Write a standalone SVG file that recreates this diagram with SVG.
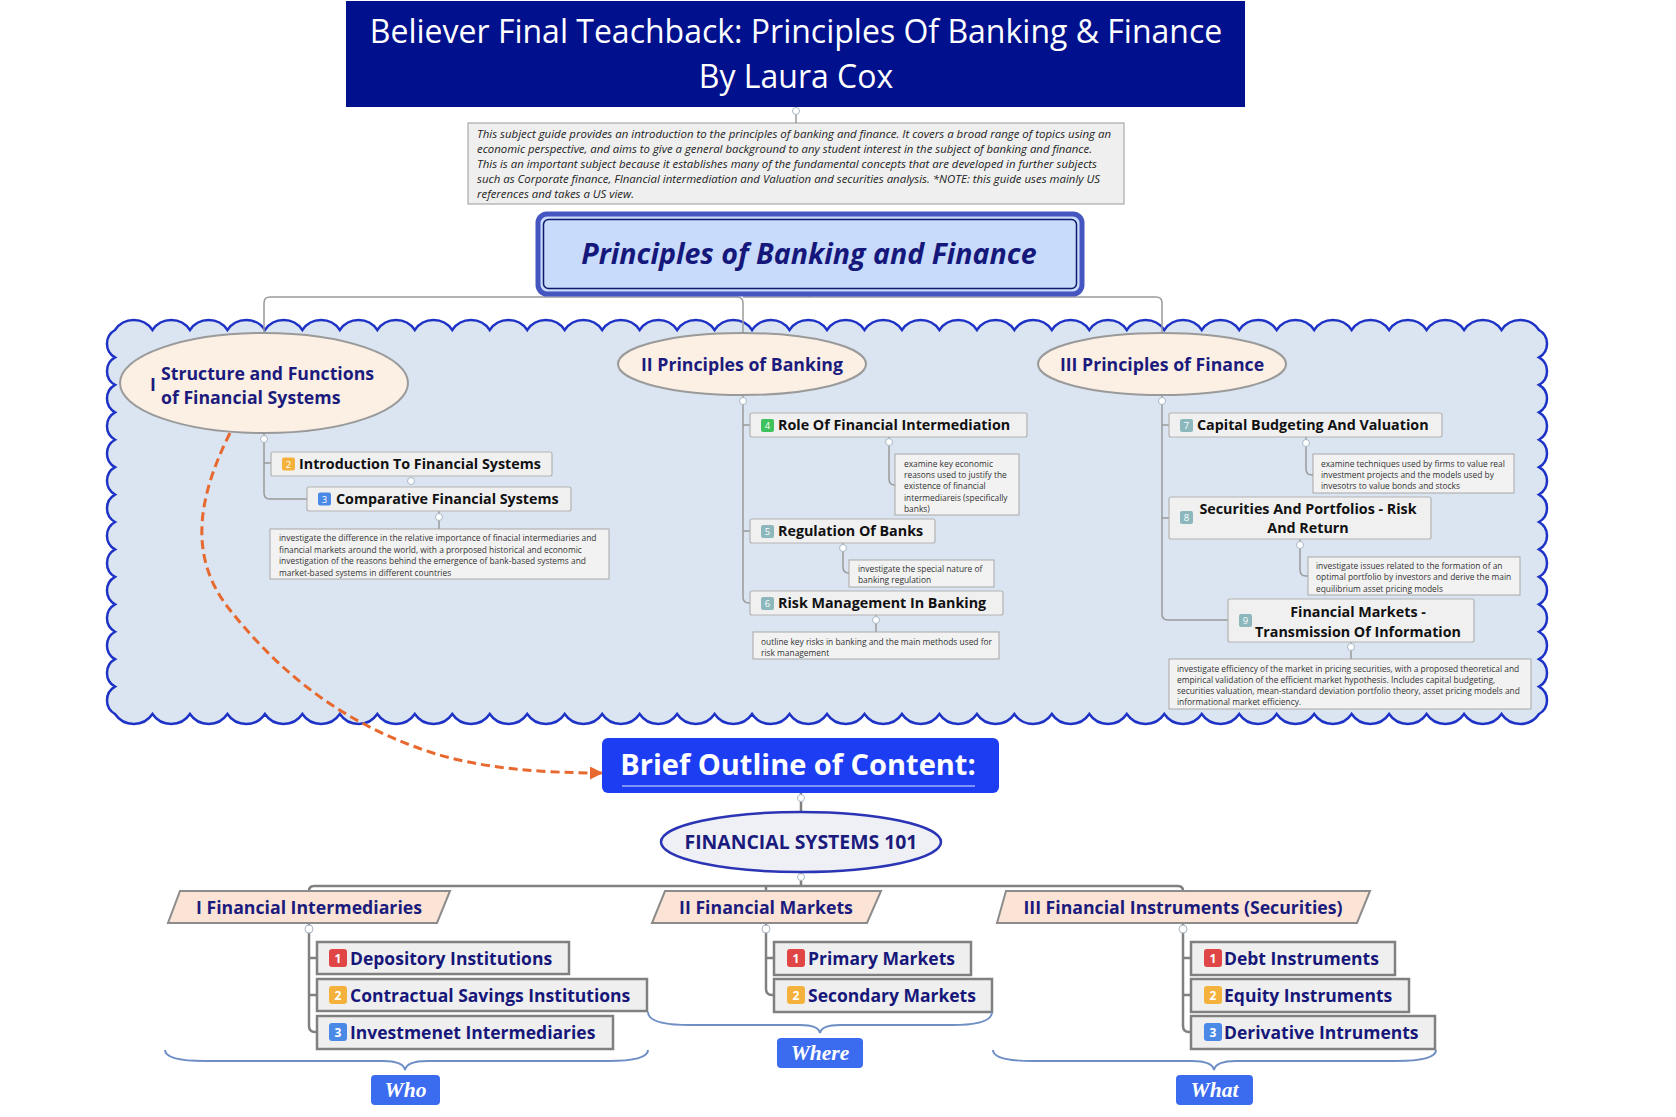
<svg xmlns="http://www.w3.org/2000/svg" width="1676" height="1117" viewBox="0 0 1676 1117">
<defs>
<style>
.sans{font-family:"Open Sans","DejaVu Sans",sans-serif}
.box{fill:#f0f0f0;stroke:#b3b3b3;stroke-width:1.2}
.note{fill:#f2f2f2;stroke:#a8a8a8;stroke-width:1}
.t15{font-family:"Open Sans",sans-serif;font-weight:bold;font-size:14.3px;fill:#111}
.nt{font-family:"Open Sans",sans-serif;font-size:8.4px;fill:#333}
.oval{fill:#fcefe4;stroke:#9a9a9a;stroke-width:2}
.ot{font-family:"Open Sans",sans-serif;font-weight:bold;font-size:17.7px;fill:#1b1b7d}
.conn{fill:none;stroke:#9a9a9a;stroke-width:1.5}
.conn2{fill:none;stroke:#808080;stroke-width:2.5}
.knob{fill:#fff;stroke:#a9b7c6;stroke-width:1}
.item{fill:#efefef;stroke:#808080;stroke-width:2.5}
.it{font-family:"Open Sans",sans-serif;font-weight:bold;font-size:17.5px;fill:#17177a}
.para{fill:#fbe4d5;stroke:#8c8c8c;stroke-width:2}
.bt{font-family:"Open Sans",sans-serif;font-size:9.5px;fill:#fff;text-anchor:middle}
.bt2{font-family:"Open Sans",sans-serif;font-size:12px;font-weight:bold;fill:#fff;text-anchor:middle}
.brace{fill:none;stroke:#6f8fc4;stroke-width:2}
.lbl{fill:#3b6cf0}
.lt{font-family:"Liberation Serif",serif;font-style:italic;font-weight:bold;font-size:21.5px;fill:#fff;text-anchor:middle}
.orange{fill:#f4b23c}.blue{fill:#4a8ae6}.green{fill:#3ec25b}.teal{fill:#8cb7bd}.red{fill:#e04646}
.dt{font-family:"Open Sans",sans-serif;font-style:italic;font-size:11px;fill:#222}
</style>
<marker id="arr" viewBox="0 0 10 10" refX="10" refY="5" markerWidth="13" markerHeight="13" markerUnits="userSpaceOnUse" orient="auto">
<polygon points="0,0 10,5 0,10" fill="#e8692f"/>
</marker>
</defs>

<!-- cloud boundary -->
<g id="cloud">
<path fill="#dae5f1" stroke="#1e33c6" stroke-width="2.5" d="M115,330
a22.6 22.6 0 0 1 37.474 0 a22.6 22.6 0 0 1 37.474 0 a22.6 22.6 0 0 1 37.474 0 a22.6 22.6 0 0 1 37.474 0 a22.6 22.6 0 0 1 37.474 0 a22.6 22.6 0 0 1 37.474 0 a22.6 22.6 0 0 1 37.474 0 a22.6 22.6 0 0 1 37.474 0 a22.6 22.6 0 0 1 37.474 0 a22.6 22.6 0 0 1 37.474 0
a22.6 22.6 0 0 1 37.474 0 a22.6 22.6 0 0 1 37.474 0 a22.6 22.6 0 0 1 37.474 0 a22.6 22.6 0 0 1 37.474 0 a22.6 22.6 0 0 1 37.474 0 a22.6 22.6 0 0 1 37.474 0 a22.6 22.6 0 0 1 37.474 0 a22.6 22.6 0 0 1 37.474 0 a22.6 22.6 0 0 1 37.474 0 a22.6 22.6 0 0 1 37.474 0
a22.6 22.6 0 0 1 37.474 0 a22.6 22.6 0 0 1 37.474 0 a22.6 22.6 0 0 1 37.474 0 a22.6 22.6 0 0 1 37.474 0 a22.6 22.6 0 0 1 37.474 0 a22.6 22.6 0 0 1 37.474 0 a22.6 22.6 0 0 1 37.474 0 a22.6 22.6 0 0 1 37.474 0 a22.6 22.6 0 0 1 37.474 0 a22.6 22.6 0 0 1 37.474 0
a22.6 22.6 0 0 1 37.474 0 a22.6 22.6 0 0 1 37.474 0 a22.6 22.6 0 0 1 37.474 0 a22.6 22.6 0 0 1 37.474 0 a22.6 22.6 0 0 1 37.474 0 a22.6 22.6 0 0 1 37.474 0 a22.6 22.6 0 0 1 37.474 0 a22.6 22.6 0 0 1 37.474 0
a15.75 15.75 0 0 1 0 27.43 a15.75 15.75 0 0 1 0 27.43 a15.75 15.75 0 0 1 0 27.43 a15.75 15.75 0 0 1 0 27.43 a15.75 15.75 0 0 1 0 27.43 a15.75 15.75 0 0 1 0 27.43 a15.75 15.75 0 0 1 0 27.43
a15.75 15.75 0 0 1 0 27.43 a15.75 15.75 0 0 1 0 27.43 a15.75 15.75 0 0 1 0 27.43 a15.75 15.75 0 0 1 0 27.43 a15.75 15.75 0 0 1 0 27.43 a15.75 15.75 0 0 1 0 27.43 a15.75 15.75 0 0 1 0 27.43
a22.6 22.6 0 0 1 -37.474 0 a22.6 22.6 0 0 1 -37.474 0 a22.6 22.6 0 0 1 -37.474 0 a22.6 22.6 0 0 1 -37.474 0 a22.6 22.6 0 0 1 -37.474 0 a22.6 22.6 0 0 1 -37.474 0 a22.6 22.6 0 0 1 -37.474 0 a22.6 22.6 0 0 1 -37.474 0 a22.6 22.6 0 0 1 -37.474 0 a22.6 22.6 0 0 1 -37.474 0
a22.6 22.6 0 0 1 -37.474 0 a22.6 22.6 0 0 1 -37.474 0 a22.6 22.6 0 0 1 -37.474 0 a22.6 22.6 0 0 1 -37.474 0 a22.6 22.6 0 0 1 -37.474 0 a22.6 22.6 0 0 1 -37.474 0 a22.6 22.6 0 0 1 -37.474 0 a22.6 22.6 0 0 1 -37.474 0 a22.6 22.6 0 0 1 -37.474 0 a22.6 22.6 0 0 1 -37.474 0
a22.6 22.6 0 0 1 -37.474 0 a22.6 22.6 0 0 1 -37.474 0 a22.6 22.6 0 0 1 -37.474 0 a22.6 22.6 0 0 1 -37.474 0 a22.6 22.6 0 0 1 -37.474 0 a22.6 22.6 0 0 1 -37.474 0 a22.6 22.6 0 0 1 -37.474 0 a22.6 22.6 0 0 1 -37.474 0 a22.6 22.6 0 0 1 -37.474 0 a22.6 22.6 0 0 1 -37.474 0
a22.6 22.6 0 0 1 -37.474 0 a22.6 22.6 0 0 1 -37.474 0 a22.6 22.6 0 0 1 -37.474 0 a22.6 22.6 0 0 1 -37.474 0 a22.6 22.6 0 0 1 -37.474 0 a22.6 22.6 0 0 1 -37.474 0 a22.6 22.6 0 0 1 -37.474 0 a22.6 22.6 0 0 1 -37.474 0
a15.75 15.75 0 0 1 0 -27.43 a15.75 15.75 0 0 1 0 -27.43 a15.75 15.75 0 0 1 0 -27.43 a15.75 15.75 0 0 1 0 -27.43 a15.75 15.75 0 0 1 0 -27.43 a15.75 15.75 0 0 1 0 -27.43 a15.75 15.75 0 0 1 0 -27.43
a15.75 15.75 0 0 1 0 -27.43 a15.75 15.75 0 0 1 0 -27.43 a15.75 15.75 0 0 1 0 -27.43 a15.75 15.75 0 0 1 0 -27.43 a15.75 15.75 0 0 1 0 -27.43 a15.75 15.75 0 0 1 0 -27.43 a15.75 15.75 0 0 1 0 -27.43 Z"/>
</g>

<!-- connectors -->
<g id="connectors">
<path class="conn" d="M796,107 V123"/>
<path class="conn" d="M809,294 V297 M264,333 V303 Q264,297 270,297 H737 Q743,297 743,303 V333 M743,297 H1156 Q1162,297 1162,303 V333"/>
<path class="conn" d="M264,433 V493 Q264,499 270,499 H307 M264,463 H271"/>
<path class="conn" d="M439,511 V529"/>
<path class="conn" d="M743,395 V597 Q743,603 749,603 H750 M743,425 H750 M743,531 H750"/>
<path class="conn" d="M889,437 V479 Q889,485 895,485"/>
<path class="conn" d="M843,543 V567 Q843,573 849,573"/>
<path class="conn" d="M876,615 V632"/>
<path class="conn" d="M1162,395 V614 Q1162,620 1168,620 H1228 M1162,425 H1169 M1162,518 H1169"/>
<path class="conn" d="M1306,437 V469 Q1306,475 1312,475 H1313"/>
<path class="conn" d="M1300,539 V570 Q1300,576 1306,576 H1308"/>
<path class="conn" d="M1351,642 V659"/>
<path class="conn2" d="M801,793 V812 M801,872 V886 M309,891 Q309,886 314,886 H1178 Q1183,886 1183,891 M766,886 V891"/>
<path class="conn2" d="M309,923 V1026 Q309,1032 315,1032 H317 M309,958 H317 M309,995 H317"/>
<path class="conn2" d="M766,923 V989 Q766,995 772,995 H774 M766,958 H774"/>
<path class="conn2" d="M1183,923 V1026 Q1183,1032 1189,1032 H1191 M1183,958 H1191 M1183,995 H1191"/>
<path fill="none" stroke="#e8692f" stroke-width="3" stroke-dasharray="9 5" marker-end="url(#arr)" d="M230,433 C195,503 190,560 230,610 C270,660 330,720 433,753 C480,768 540,773 603,773"/>
<circle class="knob" cx="796" cy="111" r="3.5"/>
<circle class="knob" cx="264" cy="439" r="3.5"/>
<circle class="knob" cx="411" cy="481" r="3.5"/>
<circle class="knob" cx="439" cy="517" r="3.5"/>
<circle class="knob" cx="743" cy="401" r="3.5"/>
<circle class="knob" cx="889" cy="442" r="3.5"/>
<circle class="knob" cx="843" cy="548" r="3.5"/>
<circle class="knob" cx="876" cy="620" r="3.5"/>
<circle class="knob" cx="1162" cy="401" r="3.5"/>
<circle class="knob" cx="1306" cy="443" r="3.5"/>
<circle class="knob" cx="1300" cy="545" r="3.5"/>
<circle class="knob" cx="1351" cy="647" r="3.5"/>
<circle class="knob" cx="801" cy="798" r="3.5"/>
<circle class="knob" cx="801" cy="877" r="3.5"/>
<circle class="knob" cx="309" cy="929" r="4" stroke="#888"/>
<circle class="knob" cx="766" cy="929" r="4" stroke="#888"/>
<circle class="knob" cx="1183" cy="929" r="4" stroke="#888"/>
</g>

<!-- title -->
<g id="title">
<rect x="346" y="1" width="899" height="106" fill="#01108c"/>
<text class="sans" x="796" y="43" font-size="32" fill="#fff" text-anchor="middle">Believer Final Teachback: Principles Of Banking &amp; Finance</text>
<text class="sans" x="796" y="88" font-size="32" fill="#fff" text-anchor="middle">By Laura Cox</text>
</g>

<g id="description">
<rect x="468" y="123" width="656" height="81" fill="#efefef" stroke="#9a9a9a" stroke-width="1"/>
<text class="dt" x="477" y="138" textLength="634" lengthAdjust="spacingAndGlyphs">This subject guide provides an introduction to the principles of banking and finance. It covers a broad range of topics using an</text>
<text class="dt" x="477" y="153" textLength="615" lengthAdjust="spacingAndGlyphs">economic perspective, and aims to give a general background to any student interest in the subject of banking and finance.</text>
<text class="dt" x="477" y="168" textLength="620" lengthAdjust="spacingAndGlyphs">This is an important subject because it establishes many of the fundamental concepts that are developed in further subjects</text>
<text class="dt" x="477" y="183" textLength="623" lengthAdjust="spacingAndGlyphs">such as Corporate finance, FInancial intermediation and Valuation and securities analysis. *NOTE: this guide uses mainly US</text>
<text class="dt" x="477" y="198" textLength="157" lengthAdjust="spacingAndGlyphs">references and takes a US view.</text>
</g>

<g id="main-topic">
<rect x="538" y="214" width="544" height="80" rx="9" fill="#c8dbfa" stroke="#4656c0" stroke-width="5"/>
<rect x="543.5" y="219.5" width="533" height="69" rx="5" fill="none" stroke="#0d1a6e" stroke-width="1.5"/>
<text class="sans" x="809" y="264" font-size="28.6" font-weight="bold" font-style="italic" fill="#15187a" text-anchor="middle">Principles of Banking and Finance</text>
</g>

<!-- branch I -->
<g id="structure-functions">
<ellipse class="oval" cx="264" cy="383" rx="144" ry="50"/>
<text class="ot" x="150" y="391">I</text>
<text class="ot" x="161" y="380">Structure and Functions</text>
<text class="ot" x="161" y="404">of Financial Systems</text>
</g>
<g id="intro-financial-systems">
<rect class="box" x="271" y="452" width="281" height="24" rx="2"/>
<rect class="orange" x="282" y="457.5" width="13" height="13" rx="2"/>
<text class="bt" x="288.5" y="467.5">2</text>
<text class="t15" x="299" y="469">Introduction To Financial Systems</text>
</g>
<g id="comparative-financial-systems">
<rect class="box" x="307" y="487" width="264" height="24" rx="2"/>
<rect class="blue" x="318" y="492.5" width="13" height="13" rx="2"/>
<text class="bt" x="324.5" y="502.5">3</text>
<text class="t15" x="336" y="504">Comparative Financial Systems</text>
</g>
<g id="note-comparative">
<rect class="note" x="270" y="529" width="339" height="50"/>
<text class="nt" x="279" y="541">investigate the difference in the relative importance of finacial intermediaries and</text>
<text class="nt" x="279" y="552.5">financial markets around the world, with a prorposed historical and economic</text>
<text class="nt" x="279" y="564">investigation of the reasons behind the emergence of bank-based systems and</text>
<text class="nt" x="279" y="575.5">market-based systems in different countries</text>
</g>

<!-- branch II -->
<g id="principles-banking">
<ellipse class="oval" cx="742" cy="364" rx="124" ry="31"/>
<text class="ot" x="742" y="371" text-anchor="middle">II Principles of Banking</text>
</g>
<g id="role-intermediation">
<rect class="box" x="750" y="413" width="277" height="24" rx="2"/>
<rect class="green" x="761" y="419" width="13" height="13" rx="2"/>
<text class="bt" x="767.5" y="429">4</text>
<text class="t15" x="778" y="430">Role Of Financial Intermediation</text>
</g>
<g id="note-role">
<rect class="note" x="895" y="454" width="124" height="61"/>
<text class="nt" x="904" y="467">examine key economic</text>
<text class="nt" x="904" y="478">reasons used to justify the</text>
<text class="nt" x="904" y="489">existence of financial</text>
<text class="nt" x="904" y="501">intermediareis (specifically</text>
<text class="nt" x="904" y="512">banks)</text>
</g>
<g id="regulation-banks">
<rect class="box" x="750" y="519" width="185" height="24" rx="2"/>
<rect class="teal" x="761" y="525" width="13" height="13" rx="2"/>
<text class="bt" x="767.5" y="535">5</text>
<text class="t15" x="778" y="536">Regulation Of Banks</text>
</g>
<g id="note-regulation">
<rect class="note" x="849" y="560" width="145" height="27"/>
<text class="nt" x="858" y="572">investigate the special nature of</text>
<text class="nt" x="858" y="583">banking regulation</text>
</g>
<g id="risk-management">
<rect class="box" x="750" y="591" width="253" height="24" rx="2"/>
<rect class="teal" x="761" y="597" width="13" height="13" rx="2"/>
<text class="bt" x="767.5" y="607">6</text>
<text class="t15" x="778" y="608">Risk Management In Banking</text>
</g>
<g id="note-risk">
<rect class="note" x="753" y="632" width="246" height="27"/>
<text class="nt" x="761" y="645">outline key risks in banking and the main methods used for</text>
<text class="nt" x="761" y="656">risk management</text>
</g>

<!-- branch III -->
<g id="principles-finance">
<ellipse class="oval" cx="1162" cy="364" rx="124" ry="31"/>
<text class="ot" x="1162" y="371" text-anchor="middle">III Principles of Finance</text>
</g>
<g id="capital-budgeting">
<rect class="box" x="1169" y="413" width="273" height="24" rx="2"/>
<rect class="teal" x="1180" y="419" width="13" height="13" rx="2"/>
<text class="bt" x="1186.5" y="429">7</text>
<text class="t15" x="1197" y="430">Capital Budgeting And Valuation</text>
</g>
<g id="note-capital">
<rect class="note" x="1313" y="454" width="201" height="39"/>
<text class="nt" x="1321" y="467">examine techniques used by firms to value real</text>
<text class="nt" x="1321" y="478">investment projects and the models used by</text>
<text class="nt" x="1321" y="489">invesotrs to value bonds and stocks</text>
</g>
<g id="securities-portfolios">
<rect class="box" x="1169" y="497" width="262" height="42" rx="2"/>
<rect class="teal" x="1180" y="511" width="13" height="13" rx="2"/>
<text class="bt" x="1186.5" y="521">8</text>
<text class="t15" x="1308" y="514" text-anchor="middle">Securities And Portfolios - Risk</text>
<text class="t15" x="1308" y="533" text-anchor="middle">And Return</text>
</g>
<g id="note-securities">
<rect class="note" x="1308" y="557" width="212" height="38"/>
<text class="nt" x="1316" y="569">investigate issues related to the formation of an</text>
<text class="nt" x="1316" y="580">optimal portfolio by investors and derive the main</text>
<text class="nt" x="1316" y="592">equilibrium asset pricing models</text>
</g>
<g id="financial-markets-info">
<rect class="box" x="1228" y="599" width="246" height="43" rx="2"/>
<rect class="teal" x="1239" y="614" width="13" height="13" rx="2"/>
<text class="bt" x="1245.5" y="624">9</text>
<text class="t15" x="1358" y="617" text-anchor="middle">Financial Markets -</text>
<text class="t15" x="1358" y="637" text-anchor="middle">Transmission Of Information</text>
</g>
<g id="note-financial-markets">
<rect class="note" x="1169" y="659" width="362" height="50"/>
<text class="nt" x="1177" y="672">investigate  efficiency of the market in pricing securities, with a proposed theoretical and</text>
<text class="nt" x="1177" y="683">empirical validation of the efficient market hypothesis. Includes capital budgeting,</text>
<text class="nt" x="1177" y="694">securities valuation, mean-standard deviation portfolio theory, asset pricing models and</text>
<text class="nt" x="1177" y="705">informational market efficiency.</text>
</g>

<!-- lower map -->
<g id="brief-outline">
<rect x="602" y="738" width="397" height="55" rx="6" fill="#1d3df2"/>
<text class="sans" x="798" y="775" font-size="29" font-weight="bold" fill="#fff" text-anchor="middle">Brief Outline of Content:</text>
<line x1="622" y1="786" x2="975" y2="786" stroke="#9fb2ff" stroke-width="1.5"/>
</g>
<g id="financial-systems-101">
<ellipse cx="801" cy="842" rx="140" ry="30" fill="#eef0f6" stroke="#2b34b4" stroke-width="2.5"/>
<text class="ot" x="801" y="849" style="font-size:19.4px" text-anchor="middle">FINANCIAL SYSTEMS 101</text>
</g>

<g id="financial-intermediaries">
<polygon class="para" points="180,891 450,891 437,923 168,923"/>
<text class="ot" x="309" y="914" text-anchor="middle">I Financial Intermediaries</text>
</g>
<g id="depository">
<rect class="item" x="317" y="942" width="252" height="32"/>
<rect class="red" x="329" y="949" width="18" height="18" rx="3"/>
<text class="bt2" x="338" y="962.5">1</text>
<text class="it" x="350" y="965">Depository Institutions</text>
</g>
<g id="contractual">
<rect class="item" x="317" y="979" width="330" height="32"/>
<rect class="orange" x="329" y="986" width="18" height="18" rx="3"/>
<text class="bt2" x="338" y="999.5">2</text>
<text class="it" x="350" y="1002">Contractual Savings Institutions</text>
</g>
<g id="investment">
<rect class="item" x="317" y="1016" width="296" height="33"/>
<rect class="blue" x="329" y="1023" width="18" height="18" rx="3"/>
<text class="bt2" x="338" y="1036.5">3</text>
<text class="it" x="350" y="1039">Investmenet Intermediaries</text>
</g>

<g id="financial-markets">
<polygon class="para" points="665,891 881,891 867,923 652,923"/>
<text class="ot" x="766" y="914" text-anchor="middle">II Financial Markets</text>
</g>
<g id="primary">
<rect class="item" x="774" y="942" width="197" height="33"/>
<rect class="red" x="787" y="949" width="18" height="18" rx="3"/>
<text class="bt2" x="796" y="962.5">1</text>
<text class="it" x="808" y="965">Primary Markets</text>
</g>
<g id="secondary">
<rect class="item" x="774" y="979" width="218" height="33"/>
<rect class="orange" x="787" y="986" width="18" height="18" rx="3"/>
<text class="bt2" x="796" y="999.5">2</text>
<text class="it" x="808" y="1002">Secondary Markets</text>
</g>

<g id="financial-instruments">
<polygon class="para" points="1006,891 1370,891 1357,923 997,923"/>
<text class="ot" x="1183" y="914" text-anchor="middle">III Financial Instruments (Securities)</text>
</g>
<g id="debt">
<rect class="item" x="1191" y="942" width="204" height="33"/>
<rect class="red" x="1204" y="949" width="18" height="18" rx="3"/>
<text class="bt2" x="1213" y="962.5">1</text>
<text class="it" x="1224" y="965">Debt Instruments</text>
</g>
<g id="equity">
<rect class="item" x="1191" y="979" width="218" height="33"/>
<rect class="orange" x="1204" y="986" width="18" height="18" rx="3"/>
<text class="bt2" x="1213" y="999.5">2</text>
<text class="it" x="1224" y="1002">Equity Instruments</text>
</g>
<g id="derivative">
<rect class="item" x="1191" y="1016" width="244" height="33"/>
<rect class="blue" x="1204" y="1023" width="18" height="18" rx="3"/>
<text class="bt2" x="1213" y="1036.5">3</text>
<text class="it" x="1224" y="1039">Derivative Intruments</text>
</g>

<!-- braces and labels -->
<g id="who">
<path class="brace" d="M165,1050 C165,1058 180,1061 205,1061 L383,1061 C398,1061 404,1065 405,1070 C406,1065 412,1061 427,1061 L608,1061 C633,1061 648,1058 648,1050"/>
<rect class="lbl" x="371" y="1075" width="69" height="30" rx="4"/>
<text class="lt" x="405.5" y="1097">Who</text>
</g>
<g id="where">
<path class="brace" d="M648,1012 C648,1021 662,1025 690,1025 L800,1025 C814,1025 819,1028 820,1033 C821,1028 826,1025 840,1025 L952,1025 C978,1025 992,1021 992,1012"/>
<rect class="lbl" x="777" y="1038" width="86" height="30" rx="4"/>
<text class="lt" x="820" y="1060">Where</text>
</g>
<g id="what">
<path class="brace" d="M993,1050 C993,1058 1008,1061 1033,1061 L1192,1061 C1207,1061 1213,1065 1214,1070 C1215,1065 1221,1061 1236,1061 L1396,1061 C1421,1061 1436,1058 1436,1050"/>
<rect class="lbl" x="1176" y="1075" width="77" height="30" rx="4"/>
<text class="lt" x="1214.5" y="1097">What</text>
</g>
</svg>
